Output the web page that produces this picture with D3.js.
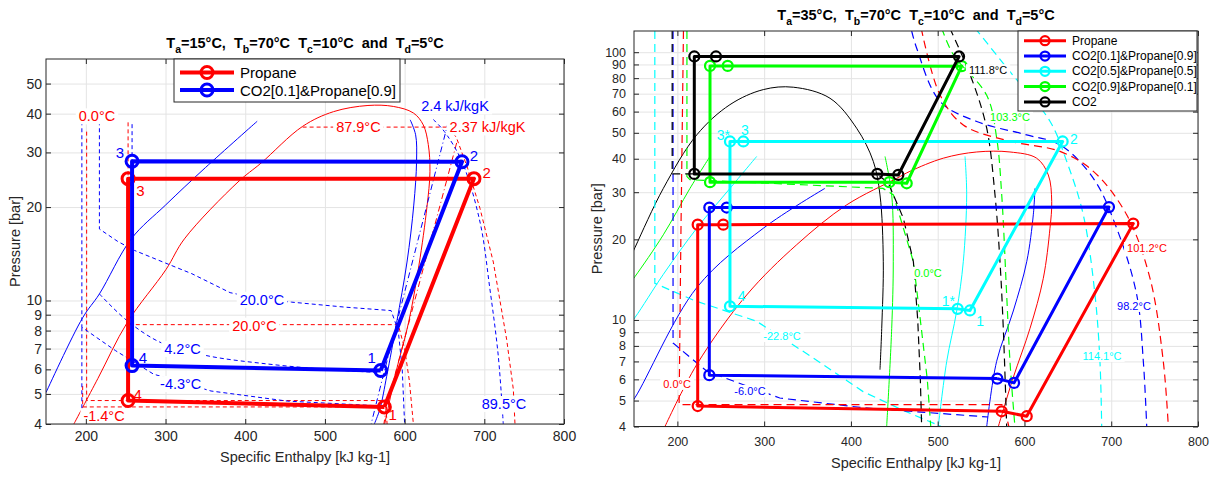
<!DOCTYPE html>
<html>
<head>
<meta charset="utf-8">
<script src="https://cdn.jsdelivr.net/npm/d3@7"></script>
<style>
  body { margin: 0; background: #fff; }
  text { font-family: Arial, "Liberation Sans", Helvetica, sans-serif; }
</style>
</head>
<body>
<script>
// ---- axis ticks ----
var hTicks = [200, 300, 400, 500, 600, 700, 800];
var pTicksL = [4, 5, 6, 7, 8, 9, 10, 20, 30, 40, 50];
var pTicksR = [4, 5, 6, 7, 8, 9, 10, 20, 30, 40, 50, 60, 70, 80, 90, 100];

// ---- titles: [main, subscript, rest] ----
var titleL = [['T', 'a', '=15°C,  '], ['T', 'b', '=70°C  '], ['T', 'c', '=10°C  and  '], ['T', 'd', '=5°C']];
var titleR = [['T', 'a', '=35°C,  '], ['T', 'b', '=70°C  '], ['T', 'c', '=10°C  and  '], ['T', 'd', '=5°C']];

var legendNamesL = ['Propane', 'CO2[0.1]&Propane[0.9]'];
var legendNamesR = ['Propane', 'CO2[0.1]&Propane[0.9]', 'CO2[0.5]&Propane[0.5]', 'CO2[0.9]&Propane[0.1]', 'CO2'];

// ---- left chart: cycles [h, P] ----
var cycPropaneL = [[574.6, 4.54], [687, 24.7], [253, 24.7], [253, 4.76], [574.6, 4.54]];
var cycMix01L = [[570, 5.95], [672, 28.0], [258, 28.1], [258, 6.17], [570, 5.95]];
var ptLabPropaneL = [['1', 585, 4.30], ['2', 702.9, 25.9], ['3', 268.6, 22.7], ['4', 265, 4.99]];
var ptLabMix01L = [['1', 558.8, 6.53], ['2', 687, 29.4], ['3', 242.8, 29.98], ['4', 271.7, 6.55]];

// left chart: saturation lines, isentropes, isotherms
var redDomeL = [[185, 4], [215, 5.6], [252, 8.5], [300.7, 12.6], [323.7, 15.8], [391, 24.1], [419.7, 27.7], [472, 36.4], [510.8, 40.6], [554, 42.5], [585.8, 42.2], [611, 40.2], [623.4, 36.8], [629.7, 31.8], [631.8, 26], [628, 20], [618, 13], [605, 8.5], [590, 6], [580, 4.6], [575, 4]];
var blueLiqL = [[150, 5.05], [196, 8.8], [217, 10.5], [257, 15.8], [300, 20.3], [350, 26.8], [415, 37.8]];
var blueVapL = [[607, 38.2], [613.8, 34.2], [615, 28.1], [611.5, 20.3], [603, 13.3], [590, 8.5], [577.5, 5.7], [569, 4.47], [562, 4]];
var blueIsenL = [[655, 37.8], [569, 5.2], [558, 4]];
var redIsenL = [[665.3, 32.2], [577.5, 4.57], [574, 4]];
var red0L = [[201, 35], [201, 4.76], [576, 4.76], [578, 4]];
var redM14L = [[196, 5.3], [196, 4.54], [574, 4.54]];
var red20L = [[253, 37.5], [253, 8.36], [592, 8.36], [600, 7], [606, 5.5], [611, 4]];
var red879L = [[472, 36.2], [655, 36.2], [665, 33.5], [679, 26.7], [694.6, 19.8], [711.3, 13.3], [728, 7.5], [736.4, 5.18], [738.5, 4]];
var blue895L = [[636, 38.3], [650, 35], [672, 28], [694.6, 17.9], [707, 10.9], [717.5, 6.64], [723.8, 4]];
var blue20L = [[217, 37.8], [217, 17], [240, 15.5], [261, 14.5], [300, 13.2], [333, 12.2], [381, 10.6], [420, 10.1], [458, 9.88], [525, 9.52], [583, 9.28], [592, 8], [597, 6], [600, 4]];
var blue42L = [[217, 10.5], [252, 8.6], [295, 7.3], [352, 6.64], [429, 6.24], [501, 6.0], [568, 5.86]];
var blueM43L = [[195, 37.8], [195, 8.2], [237, 6.9], [285, 5.79], [357, 5.11], [453, 4.74], [573, 4.57]];
var blueVertL = [[195, 8.2], [195, 4]];
var blue258L = [[258, 37], [258, 28]];

var isoLabRedL = [['0.0°C', 214, 39.2], ['87.9°C', 542, 36.1], ['2.37 kJ/kgK', 704, 36.1], ['20.0°C', 411.5, 8.3], ['-1.4°C', 222.8, 4.24]];
var isoLabBlueL = [['2.4 kJ/kgK', 663.2, 42.2], ['20.0°C', 421, 10.05], ['4.2°C', 321.3, 6.98], ['-4.3°C', 319, 5.38], ['89.5°C', 724.7, 4.64]];

// ---- right chart: cycles 1*,1,2,3,3*,4 ----
var cycPropaneR = [[573.7, 4.56], [602.6, 4.37], [725.4, 22.9], [252.9, 22.7], [223.4, 22.7], [223.4, 4.77], [573.7, 4.56]];
var cycMix01R = [[568.7, 6.04], [588, 5.82], [697.4, 26.4], [256.8, 26.3], [236.8, 26.3], [236.8, 6.22], [568.7, 6.04]];
var cycMix05R = [[523, 11.0], [537.2, 10.85], [644, 46.4], [276, 46.4], [260.6, 46.4], [260.6, 11.25], [523, 11.0]];
var cycMix09R = [[444.2, 32.7], [464.3, 32.4], [527.7, 88.7], [258, 88.9], [237.6, 88.9], [237.6, 32.7], [444.2, 32.7]];
var cycCO2R = [[430.4, 35.1], [454.6, 34.8], [524.6, 96.4], [244.5, 96.4], [219.5, 96.4], [219.5, 35.1], [430.4, 35.1]];
var ptLabMix05R = [['3*', 252.9, 48.9], ['3', 277.9, 51.3], ['4', 274.1, 12.26], ['1*', 512.2, 11.74], ['1', 548.8, 9.94], ['2', 657.1, 47.5]];

// right chart: saturation lines
var blackDomeR = [[140, 15.5], [151, 18.6], [183.8, 31], [222.3, 49.1], [260.6, 63.7], [299, 72.5], [333.6, 74], [375.9, 67.3], [406.6, 52], [425.8, 39.1], [433.5, 29.3], [437.3, 16.5], [435.5, 9.3], [433.5, 6.52]];
var redDomeR = [[185.7, 4], [222.3, 6.81], [279.9, 12.4], [337.5, 19.1], [395.1, 26.9], [452.8, 33.8], [468, 35.9], [506.5, 40.2], [545, 42.4], [583.3, 42.4], [614, 40.2], [627.5, 34.8], [631.4, 27.7], [629.4, 22], [621.7, 14.3], [606.4, 9.3], [587.1, 6.1], [569.9, 4]];
var blueLiqR = [[140, 4.6], [151, 5.12], [222.3, 13.2], [299, 22], [370, 31]];
var blueVapR = [[612.1, 31], [610.2, 24.7], [602.6, 16.5], [587.1, 10.8], [567.9, 7.0], [556.5, 4]];
var cyanLiqR = [[140, 9.2], [151, 10.2], [183.8, 14.8], [222.3, 22], [260.6, 31], [291.4, 40.8]];
var cyanVapR = [[531.5, 40.8], [533.4, 29.3], [529.5, 16.5], [521.9, 10.8], [510.4, 7.0], [500.7, 4]];
var greenLiqR = [[140, 13], [151, 14.5], [183.8, 20.8], [214.5, 31], [237.6, 40.8]];
var greenVapR = [[439.3, 40.8], [447, 29.3], [448.8, 16.5], [447, 9.3], [441.2, 4]];

// right chart: isotherms
var cyanM228R = [[174, 120], [174, 13.7], [220, 11.8], [291, 9.9], [357, 7.2], [414, 5.4], [460, 4.6], [504, 4]];
var blueM6R = [[195, 120], [195, 8.2], [234, 6.43], [318, 5.11], [414, 4.7], [468, 4.56], [558, 4.34]];
var red0R = [[207, 120], [204, 20], [202, 4.83], [575, 4.83], [579, 4.4], [582, 4]];
var green0R = [[211, 120], [211, 34.3], [214.5, 33.4], [437, 31.0], [449, 29.3], [472, 16.5], [480, 10], [488, 6], [492, 4]];
var black0R = [[194, 120], [194, 35.1], [430, 35.1], [443, 32.5], [460.4, 24], [472, 16.5], [477, 10], [480, 6], [481.5, 4]];
var green1033R = [[504.6, 123], [518, 98], [556.5, 69], [568, 47.7], [573.8, 29.3], [579.5, 12.4], [583.3, 7], [589, 4]];
var black1118R = [[514, 123], [539, 79.8], [556.5, 52], [566, 29.4], [571.8, 16.5], [575.6, 9.3], [579.5, 4]];
var cyan1141R = [[543, 123], [583.3, 84.6], [629.4, 55.2], [648.7, 39.1], [667.8, 24.7], [681.3, 12.4], [687, 7.0], [689, 4]];
var blue982R = [[470, 120], [475.8, 103.5], [502.7, 65.5], [545, 55.1], [602.6, 49.1], [641, 45.1], [679.4, 33.8], [706.3, 22], [729.4, 12.4], [737, 7], [740.9, 4]];
var red1012R = [[481, 123], [502.7, 69.2], [529.5, 53.5], [583.3, 46.5], [641, 42.6], [679.4, 35.9], [717.8, 24.7], [744.7, 14.3], [760, 7], [765.8, 4]];

var isoLabRedR = [['0.0°C', 199.6, 5.77], ['101.2°C', 741.2, 18.56]];
var isoLabBlueR = [['-6.0°C', 283.7, 5.43], ['98.2°C', 726.2, 11.28]];
var isoLabCyanR = [['-22.8°C', 320.6, 8.71], ['114.1°C', 689.4, 7.34]];
var isoLabGreenR = [['0.0°C', 488.8, 14.98], ['103.3°C', 583.3, 57.2]];
var isoLabBlackR = [['111.8°C', 558, 85.7]];

var RED = '#ff0000', BLUE = '#0000ff', CYAN = '#00ffff', GREEN = '#00ff00', BLACK = '#000000';
var AX = '#262626';

var svg = d3.select('body').append('svg')
    .attr('width', 1215)
    .attr('height', 480);

function makePanel(o) {
    var x = d3.scaleLinear().domain([150, 800]).range([o.x0, o.x1]);
    var y = d3.scaleLog().domain([4, o.pMax]).range([o.y1, o.y0]);
    var g = svg.append('g');

    svg.append('clipPath').attr('id', 'clip' + o.name)
        .append('rect')
        .attr('x', o.x0).attr('y', o.y0)
        .attr('width', o.x1 - o.x0).attr('height', o.y1 - o.y0);

    //grid
    g.append('g')
        .attr('transform', 'translate(0,' + o.y1 + ')')
        .call(d3.axisBottom(x).tickValues(hTicks).tickSize(-(o.y1 - o.y0)).tickFormat(''))
        .call(function(s) {
            s.select('.domain').remove();
            s.selectAll('line').attr('stroke', '#e4e4e4');
        });
    g.append('g')
        .attr('transform', 'translate(' + o.x0 + ',0)')
        .call(d3.axisLeft(y).tickValues(o.pTicks).tickSize(-(o.x1 - o.x0)).tickFormat(''))
        .call(function(s) {
            s.select('.domain').remove();
            s.selectAll('line').attr('stroke', '#e4e4e4');
        });

    var plot = g.append('g').attr('clip-path', 'url(#clip' + o.name + ')');
    return { x: x, y: y, g: g, plot: plot, o: o };
}

function drawAxes(p) {
    var o = p.o;
    var style = function(s) {
        s.select('.domain').remove();
        s.selectAll('line').attr('stroke', AX);
        s.selectAll('text').attr('fill', AX).attr('font-size', o.tickFont)
            .attr('font-family', 'Arial, "Liberation Sans", sans-serif');
    };
    p.g.append('g').attr('transform', 'translate(0,' + o.y1 + ')')
        .call(d3.axisBottom(p.x).tickValues(hTicks).tickSizeInner(-5).tickSizeOuter(0).tickPadding(o.padX))
        .call(style);
    p.g.append('g').attr('transform', 'translate(0,' + o.y0 + ')')
        .call(d3.axisTop(p.x).tickValues(hTicks).tickSizeInner(-5).tickSizeOuter(0).tickFormat(''))
        .call(style);
    p.g.append('g').attr('transform', 'translate(' + o.x0 + ',0)')
        .call(d3.axisLeft(p.y).tickValues(o.pTicks).tickFormat(d3.format('d')).tickSizeInner(-5).tickSizeOuter(0).tickPadding(o.padY))
        .call(style);
    p.g.append('g').attr('transform', 'translate(' + o.x1 + ',0)')
        .call(d3.axisRight(p.y).tickValues(o.pTicks).tickSizeInner(-5).tickSizeOuter(0).tickFormat(''))
        .call(style);

    p.g.append('rect')
        .attr('x', o.x0).attr('y', o.y0)
        .attr('width', o.x1 - o.x0).attr('height', o.y1 - o.y0)
        .attr('fill', 'none').attr('stroke', AX).attr('stroke-width', 1);

    p.g.append('text')
        .attr('x', (o.x0 + o.x1) / 2).attr('y', o.xLabelY)
        .attr('text-anchor', 'middle').attr('font-size', 14.5).attr('fill', AX)
        .text('Specific Enthalpy [kJ kg-1]');
    p.g.append('text')
        .attr('transform', 'translate(' + o.yLabelX + ',' + ((o.y0 + o.y1) / 2) + ') rotate(-90)')
        .attr('text-anchor', 'middle').attr('dominant-baseline', 'central')
        .attr('font-size', 14.5).attr('fill', AX)
        .text('Pressure [bar]');
}

function title(p, parts, ty) {
    var t = p.g.append('text')
        .attr('x', (p.o.x0 + p.o.x1) / 2).attr('y', ty)
        .attr('text-anchor', 'middle')
        .attr('font-size', 14.5).attr('font-weight', 'bold').attr('fill', '#000')
        .style('white-space', 'pre');
    parts.forEach(function(pt) {
        t.append('tspan').text(pt[0]);
        t.append('tspan').attr('dy', 5).attr('font-size', 10.5).text(pt[1]);
        t.append('tspan').attr('dy', -5).text(pt[2]);
    });
}

// smooth curves for saturation lines, straight segments for isotherms with corners
function curve(p, data, color, dash, width, straight) {
    p.plot.append('path')
        .datum(data)
        .attr('fill', 'none')
        .attr('stroke', color)
        .attr('stroke-width', width || 1)
        .attr('stroke-dasharray', dash || null)
        .attr('d', d3.line()
            .x(function(d) { return p.x(d[0]); })
            .y(function(d) { return p.y(d[1]); })
            .curve(straight ? d3.curveLinear : d3.curveCatmullRom.alpha(0.5)));
}

function cycle(p, data, color, lw, r) {
    var grp = p.plot.append('g');
    grp.append('path')
        .datum(data)
        .attr('fill', 'none').attr('stroke', color)
        .attr('stroke-width', lw).attr('stroke-linejoin', 'round')
        .attr('d', d3.line().x(function(d) { return p.x(d[0]); }).y(function(d) { return p.y(d[1]); }));
    grp.selectAll('circle').data(data.slice(0, -1)).enter().append('circle')
        .attr('cx', function(d) { return p.x(d[0]); })
        .attr('cy', function(d) { return p.y(d[1]); })
        .attr('r', r)
        .attr('fill', 'none').attr('stroke', color).attr('stroke-width', lw * 0.75);
}

function labels(p, list, color, size, boxed) {
    list.forEach(function(l) {
        var gg = p.g.append('g');
        var t = gg.append('text')
            .attr('x', p.x(l[1])).attr('y', p.y(l[2]))
            .attr('text-anchor', 'middle').attr('dominant-baseline', 'central')
            .attr('font-size', size).attr('fill', color)
            .text(l[0]);
        if (boxed) {
            var b = t.node().getBBox();
            gg.insert('rect', 'text')
                .attr('x', b.x - 3).attr('y', b.y)
                .attr('width', b.width + 6).attr('height', b.height)
                .attr('fill', '#fff');
        }
    });
}

function legend(p, names, colors, box, rowY0, rowStep, font, lw, r) {
    var lg = p.g.append('g');
    lg.append('rect')
        .attr('x', box[0]).attr('y', box[1]).attr('width', box[2]).attr('height', box[3])
        .attr('fill', '#fff').attr('stroke', AX).attr('stroke-width', 1);
    names.forEach(function(n, i) {
        var yy = rowY0 + i * rowStep;
        lg.append('line')
            .attr('x1', box[0] + 6).attr('x2', box[0] + 6 + box[4])
            .attr('y1', yy).attr('y2', yy)
            .attr('stroke', colors[i]).attr('stroke-width', lw);
        lg.append('circle')
            .attr('cx', box[0] + 6 + box[4] / 2).attr('cy', yy).attr('r', r)
            .attr('fill', 'none').attr('stroke', colors[i]).attr('stroke-width', lw * 0.75);
        lg.append('text')
            .attr('x', box[0] + 12 + box[4]).attr('y', yy)
            .attr('dominant-baseline', 'central')
            .attr('font-size', font).attr('fill', '#000')
            .text(n);
    });
}

// ================= left chart =================
var L = makePanel({ name: 'L', x0: 46, x1: 564, y0: 59, y1: 424, pMax: 60, pTicks: pTicksL,
    tickFont: 14, padX: 7, padY: 4, xLabelY: 462, yLabelX: 15 });

var dL = '4,3';
curve(L, redDomeL, RED);
curve(L, blueLiqL, BLUE);
curve(L, blueVapL, BLUE);
curve(L, blueIsenL, BLUE, '6,3,1,3', 1, true);
curve(L, redIsenL, RED, '6,3,1,3', 1, true);
curve(L, red0L, RED, dL, 1, true);
curve(L, redM14L, RED, dL, 1, true);
curve(L, red20L, RED, dL, 1, true);
curve(L, red879L, RED, dL, 1, true);
curve(L, blue895L, BLUE, dL);
curve(L, blue20L, BLUE, dL, 1, true);
curve(L, blue42L, BLUE, dL);
curve(L, blueM43L, BLUE, dL, 1, true);
curve(L, blueVertL, BLUE, dL, 1, true);
curve(L, blue258L, BLUE, dL, 1, true);

labels(L, isoLabRedL, RED, 14.5, true);
labels(L, isoLabBlueL, BLUE, 14.5, true);

cycle(L, cycPropaneL, RED, 4, 6);
cycle(L, cycMix01L, BLUE, 4, 6);
labels(L, ptLabPropaneL, RED, 15, false);
labels(L, ptLabMix01L, BLUE, 15, false);

drawAxes(L);
title(L, titleL, 48);
legend(L, legendNamesL, [RED, BLUE], [174, 59, 226, 43, 54], 72.5, 17.5, 15, 4, 6);

// ================= right chart =================
var R = makePanel({ name: 'R', x0: 634, x1: 1198, y0: 31, y1: 426.5, pMax: 120, pTicks: pTicksR,
    tickFont: 12.5, padX: 11, padY: 8, xLabelY: 468, yLabelX: 597 });

var dR = '8,5';
curve(R, blackDomeR, BLACK);
curve(R, redDomeR, RED);
curve(R, blueLiqR, BLUE);
curve(R, blueVapR, BLUE);
curve(R, cyanLiqR, CYAN);
curve(R, cyanVapR, CYAN);
curve(R, greenLiqR, GREEN);
curve(R, greenVapR, GREEN);

curve(R, cyanM228R, CYAN, dR, 1.2, true);
curve(R, blueM6R, BLUE, dR, 1.2, true);
curve(R, red0R, RED, dR, 1.2, true);
curve(R, green0R, GREEN, dR, 1.2, true);
curve(R, black0R, BLACK, dR, 1.2, true);
curve(R, green1033R, GREEN, dR, 1.2);
curve(R, black1118R, BLACK, dR, 1.2);
curve(R, cyan1141R, CYAN, dR, 1.2);
curve(R, blue982R, BLUE, dR, 1.2);
curve(R, red1012R, RED, dR, 1.2);

labels(R, isoLabRedR, RED, 11, true);
labels(R, isoLabBlueR, BLUE, 11, true);
labels(R, isoLabCyanR, CYAN, 11, true);
labels(R, isoLabGreenR, GREEN, 11, true);
labels(R, isoLabBlackR, BLACK, 11, true);

cycle(R, cycPropaneR, RED, 3, 5);
cycle(R, cycMix01R, BLUE, 3, 5);
cycle(R, cycMix05R, CYAN, 3, 5);
cycle(R, cycMix09R, GREEN, 3, 5);
cycle(R, cycCO2R, BLACK, 3, 5);
labels(R, ptLabMix05R, CYAN, 14, false);

drawAxes(R);
title(R, titleR, 20);
legend(R, legendNamesR, [RED, BLUE, CYAN, GREEN, BLACK], [1018, 31, 179, 80, 42], 40.7, 15.3, 12, 3, 4.5);
</script>
</body>
</html>
